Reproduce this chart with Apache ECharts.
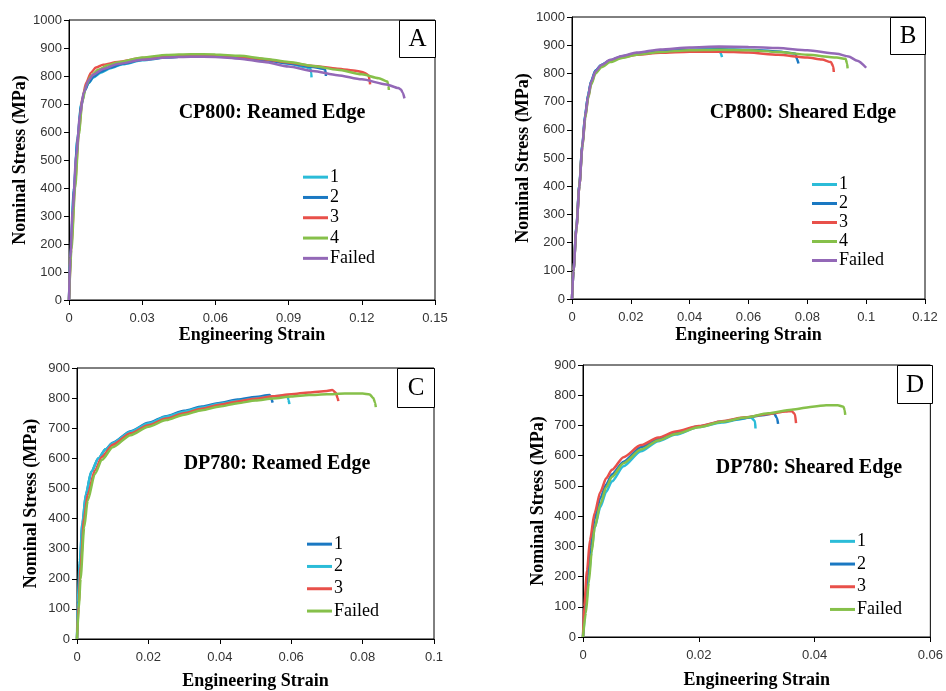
<!DOCTYPE html>
<html>
<head>
<meta charset="utf-8">
<script src="https://cdn.jsdelivr.net/npm/echarts@6/dist/echarts.min.js"></script>
<style>
html,body{margin:0;padding:0;background:#fff;}
#chart{width:946px;height:691px;}
</style>
</head>
<body>
<div id="chart"></div>
<script>
// ---------- Panel A: CP800 Reamed Edge  [strain, stress MPa] ----------
const A1 = [[0,0],[0.0008,200],[0.002,400],[0.0035,580],[0.005,700],[0.0065,750],[0.008,775],[0.01,795],[0.013,812],[0.017,828],[0.022,842],[0.03,856],[0.04,866],[0.05,871],[0.06,872],[0.07,867],[0.08,858],[0.09,845],[0.097,832],[0.099,825],[0.0993,810],[0.0994,795]];
const A2 = [[0,0],[0.0008,190],[0.002,390],[0.0035,575],[0.005,695],[0.0065,748],[0.008,776],[0.01,797],[0.013,815],[0.017,830],[0.022,844],[0.03,858],[0.04,867],[0.05,871],[0.06,871],[0.07,866],[0.08,857],[0.09,845],[0.1,832],[0.104,826],[0.105,822],[0.1052,810],[0.1053,800]];
const A3 = [[0,0],[0.001,200],[0.0025,420],[0.004,600],[0.0055,720],[0.007,775],[0.009,812],[0.011,830],[0.014,840],[0.02,850],[0.03,864],[0.04,872],[0.05,875],[0.06,874],[0.07,868],[0.08,860],[0.09,848],[0.1,836],[0.11,826],[0.118,818],[0.121,812],[0.1228,802],[0.1232,785],[0.1234,770]];
const A4 = [[0,0],[0.001,180],[0.0025,400],[0.004,590],[0.0055,710],[0.007,765],[0.009,800],[0.012,822],[0.016,838],[0.02,848],[0.03,866],[0.04,875],[0.05,878],[0.06,877],[0.07,872],[0.08,862],[0.09,850],[0.1,836],[0.11,822],[0.12,806],[0.127,792],[0.1305,780],[0.1309,765],[0.1311,750]];
const AF = [[0,0],[0.0005,150],[0.0015,320],[0.003,520],[0.0045,660],[0.006,740],[0.008,785],[0.01,805],[0.014,825],[0.02,843],[0.03,858],[0.04,866],[0.05,869],[0.06,868],[0.07,862],[0.08,850],[0.09,834],[0.1,818],[0.11,803],[0.12,788],[0.13,770],[0.135,757],[0.136,752],[0.1368,740],[0.1375,720]];

// ---------- Panel B: CP800 Sheared Edge ----------
const B1 = [[0,0],[0.0005,100],[0.0015,255],[0.0025,405],[0.0035,545],[0.0045,655],[0.0055,725],[0.0065,772],[0.008,810],[0.01,830],[0.013,847],[0.017,860],[0.022,870],[0.03,878],[0.04,883],[0.05,884],[0.0505,872],[0.051,858]];
const B2 = [[0,0],[0.0005,100],[0.0015,255],[0.0025,405],[0.0035,545],[0.0045,655],[0.0055,725],[0.0065,772],[0.008,810],[0.01,830],[0.013,846],[0.017,860],[0.022,870],[0.03,879],[0.04,884],[0.05,886],[0.06,884],[0.07,878],[0.076,870],[0.0765,850],[0.077,835]];
const B3 = [[0,0],[0.0005,100],[0.0015,250],[0.0025,400],[0.0035,538],[0.0045,645],[0.0055,716],[0.0065,765],[0.008,804],[0.01,826],[0.013,843],[0.017,857],[0.022,866],[0.03,873],[0.04,877],[0.05,877],[0.06,874],[0.07,866],[0.08,856],[0.085,849],[0.088,840],[0.0888,825],[0.089,805]];
const B4 = [[0,0],[0.0005,100],[0.0015,250],[0.0025,400],[0.0035,535],[0.0045,640],[0.0055,712],[0.0065,760],[0.008,800],[0.01,822],[0.013,840],[0.017,855],[0.022,866],[0.03,876],[0.04,882],[0.05,884],[0.06,882],[0.07,876],[0.08,866],[0.09,856],[0.093,852],[0.0935,835],[0.0937,818]];
const BF = [[0,0],[0.0005,100],[0.0015,250],[0.0025,400],[0.0035,540],[0.0045,650],[0.0055,720],[0.0065,770],[0.008,808],[0.01,830],[0.013,848],[0.017,862],[0.022,874],[0.03,885],[0.04,892],[0.05,895],[0.06,894],[0.07,890],[0.08,882],[0.09,870],[0.094,860],[0.097,845],[0.1,820]];

// ---------- Panel C: DP780 Reamed Edge ----------
const C1 = [[0,0],[0.0003,100],[0.0008,250],[0.0015,380],[0.0025,480],[0.004,555],[0.006,600],[0.008,630],[0.01,652],[0.015,690],[0.02,718],[0.025,740],[0.03,758],[0.035,772],[0.04,784],[0.045,795],[0.05,804],[0.054,810],[0.0545,795],[0.0548,785]];
const C2 = [[0,0],[0.0002,120],[0.0008,260],[0.0015,385],[0.0025,482],[0.004,556],[0.006,600],[0.008,630],[0.01,650],[0.015,688],[0.02,716],[0.025,738],[0.03,755],[0.035,769],[0.04,781],[0.045,791],[0.05,799],[0.055,806],[0.059,809],[0.0592,795],[0.0595,780]];
const C3 = [[0,0],[0.0005,120],[0.001,240],[0.002,400],[0.003,480],[0.005,560],[0.007,605],[0.01,645],[0.015,683],[0.02,710],[0.025,732],[0.03,750],[0.035,765],[0.04,778],[0.045,789],[0.05,798],[0.055,806],[0.06,813],[0.065,819],[0.07,824],[0.0715,827],[0.0725,818],[0.073,800],[0.0732,790]];
const CF = [[0,0],[0.0005,100],[0.001,200],[0.002,370],[0.003,460],[0.005,548],[0.007,595],[0.01,637],[0.015,677],[0.02,705],[0.025,727],[0.03,745],[0.035,760],[0.04,772],[0.045,783],[0.05,792],[0.055,799],[0.06,805],[0.065,810],[0.07,813],[0.075,815],[0.08,815],[0.082,812],[0.083,800],[0.0835,785],[0.0837,770]];

// ---------- Panel D: DP780 Sheared Edge ----------
const D1 = [[0,0],[0.0005,100],[0.001,200],[0.0015,290],[0.002,360],[0.003,430],[0.004,480],[0.005,515],[0.007,565],[0.01,615],[0.013,648],[0.016,670],[0.02,695],[0.024,710],[0.027,720],[0.029,727],[0.0297,715],[0.0298,690]];
const D2 = [[0,0],[0.0003,100],[0.0008,200],[0.0013,300],[0.002,390],[0.003,460],[0.004,505],[0.005,538],[0.007,580],[0.01,628],[0.013,655],[0.016,675],[0.02,697],[0.024,713],[0.028,725],[0.031,734],[0.033,740],[0.0335,725],[0.0337,705]];
const D3 = [[0,0],[0.0002,100],[0.0007,220],[0.0012,320],[0.002,410],[0.003,480],[0.004,525],[0.005,553],[0.007,595],[0.01,635],[0.013,660],[0.016,680],[0.02,698],[0.024,714],[0.028,727],[0.032,738],[0.035,746],[0.036,748],[0.0366,738],[0.0368,708]];
const DF = [[0,0],[0.0005,80],[0.001,180],[0.0015,280],[0.002,360],[0.003,440],[0.004,495],[0.005,530],[0.007,575],[0.01,620],[0.013,650],[0.016,672],[0.02,694],[0.024,712],[0.028,726],[0.032,740],[0.036,752],[0.04,763],[0.042,767],[0.044,767],[0.045,762],[0.0452,750],[0.0453,735]];

// labels
const panelLetters = ['A','B','C','D'];
const panelTitles = ['CP800: Reamed Edge','CP800: Sheared Edge','DP780: Reamed Edge','DP780: Sheared Edge'];
const legendA = ['1','2','3','4','Failed'];
const legendB = ['1','2','3','4','Failed'];
const legendC = ['1','2','3','Failed'];
const legendD = ['1','2','3','Failed'];
const xMax = [0.15, 0.12, 0.1, 0.06];
const xStep = [0.03, 0.02, 0.02, 0.02];
const yMax = [1000, 1000, 900, 900];

const CYAN = '#2bbcd8', BLUE = '#1a78c2', RED = '#e8504a', GREEN = '#86c04a', PURPLE = '#9368b7';

const grids = [
  {left: 69, top: 20, width: 366, height: 280},
  {left: 572, top: 17, width: 353, height: 282},
  {left: 77, top: 368, width: 357, height: 271},
  {left: 583, top: 365, width: 349, height: 272}
];
const xNameGap = [26, 27, 33, 34];
const yNameGap = [33, 28, 37, 36];

const panelSeries = [
  {data: [A1, A2, A3, A4, AF], labels: legendA, colors: [CYAN, BLUE, RED, GREEN, PURPLE]},
  {data: [B1, B2, B3, B4, BF], labels: legendB, colors: [CYAN, BLUE, RED, GREEN, PURPLE]},
  {data: [C1, C2, C3, CF], labels: legendC, colors: [BLUE, CYAN, RED, GREEN]},
  {data: [D1, D2, D3, DF], labels: legendD, colors: [CYAN, BLUE, RED, GREEN]}
];

const legendPos = [
  {left: 303, top: 167, lh: 20.3},
  {left: 812, top: 175, lh: 19},
  {left: 307, top: 533, lh: 22.3},
  {left: 830, top: 530, lh: 22.7}
];

const titlePos = [[272, 113], [803, 113], [277, 464], [809, 468]];
const boxPos = [[399, 20, 36, 37], [890, 17, 35, 37], [397, 368, 37, 39], [897, 365, 35, 38]];

const serif = '"Liberation Serif", "Times New Roman", serif';
const sans = '"Liberation Sans", Arial, sans-serif';

const series = [], legends = [], xAxes = [], yAxes = [], graphics = [];
const nameMap = {};

panelSeries.forEach((p, gi) => {
  xAxes.push({
    type: 'value', gridIndex: gi, min: 0, max: xMax[gi], interval: xStep[gi],
    name: 'Engineering Strain', nameLocation: 'middle', nameGap: xNameGap[gi],
    nameTextStyle: {fontFamily: serif, fontWeight: 'bold', fontSize: 18, color: '#000'},
    axisLine: {show: true, lineStyle: {color: '#000', width: 1}},
    axisTick: {show: true, inside: false, length: 5, lineStyle: {color: '#000'}},
    axisLabel: {fontFamily: sans, fontSize: 13, color: '#333', margin: 12,
      formatter: v => String(+v.toFixed(4))},
    splitLine: {show: false}
  });
  yAxes.push({
    type: 'value', gridIndex: gi, min: 0, max: yMax[gi], interval: 100,
    name: 'Nominal Stress (MPa)', nameLocation: 'middle', nameGap: yNameGap[gi],
    nameTextStyle: {fontFamily: serif, fontWeight: 'bold', fontSize: 18, color: '#000'},
    axisLine: {show: true, lineStyle: {color: '#000', width: 1}},
    axisTick: {show: true, inside: false, length: 5, lineStyle: {color: '#000'}},
    axisLabel: {fontFamily: sans, fontSize: 13, color: '#333', margin: 7,
      formatter: v => String(Math.round(v))},
    splitLine: {show: false}
  });
  const names = [];
  p.data.forEach((d, si) => {
    const nm = panelLetters[gi] + '_' + p.labels[si];
    nameMap[nm] = p.labels[si];
    names.push(nm);
    series.push({
      type: 'line', name: nm, xAxisIndex: gi, yAxisIndex: gi, data: d,
      showSymbol: false, symbol: 'none', smooth: 0.25, smoothMonotone: 'x',
      lineStyle: {color: p.colors[si], width: 2.5},
      itemStyle: {color: p.colors[si]},
      animation: false, z: 2 + si
    });
  });
  const lp = legendPos[gi];
  legends.push({
    data: names, orient: 'vertical', left: lp.left, top: lp.top,
    padding: 0, itemGap: 0, itemWidth: 25, itemHeight: 3, icon: 'rect',
    selectedMode: false,
    formatter: n => nameMap[n],
    textStyle: {fontFamily: serif, fontSize: 18, color: '#000', lineHeight: lp.lh, padding: [0, 0, 0, -3]}
  });
  graphics.push({
    type: 'text', z: 100, x: titlePos[gi][0], y: titlePos[gi][1],
    style: {text: panelTitles[gi], font: 'bold 20px ' + serif, fill: '#000', textAlign: 'center', textVerticalAlign: 'middle'}
  });
  const b = boxPos[gi];
  graphics.push({
    type: 'rect', z: 100, shape: {x: b[0] + 0.5, y: b[1] + 0.5, width: b[2], height: b[3]},
    style: {fill: '#fff', stroke: '#000', lineWidth: 1}
  });
  graphics.push({
    type: 'text', z: 101, x: b[0] + b[2] / 2 + 0.5, y: b[1] + b[3] / 2 + 1,
    style: {text: panelLetters[gi], font: '25px ' + serif, fill: '#000', textAlign: 'center', textVerticalAlign: 'middle'}
  });
});

const chart = echarts.init(document.getElementById('chart'), null, {renderer: 'canvas'});
chart.setOption({
  backgroundColor: '#fff',
  animation: false,
  grid: grids.map(g => Object.assign({show: true, borderColor: '#000', borderWidth: 1, backgroundColor: 'transparent'}, g)),
  xAxis: xAxes,
  yAxis: yAxes,
  legend: legends,
  series: series,
  graphic: graphics
});
</script>
</body>
</html>
